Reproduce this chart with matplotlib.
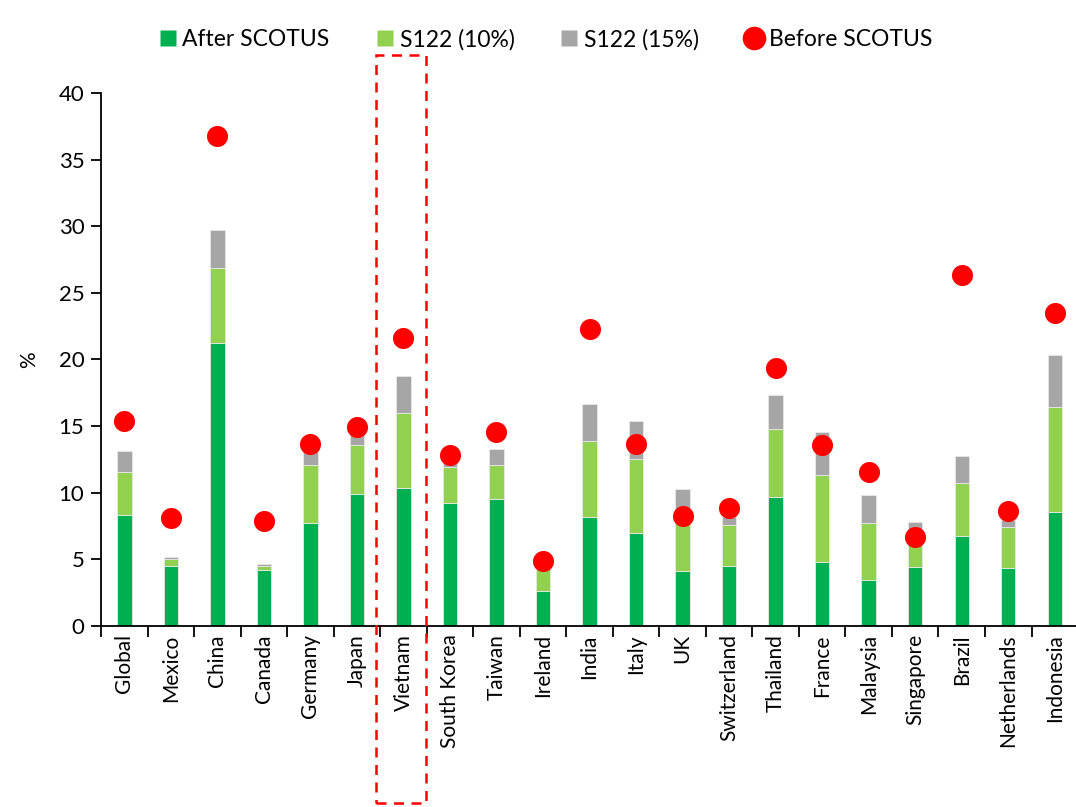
import numpy as np
import matplotlib
matplotlib.use("Agg")
import matplotlib.pyplot as plt
import matplotlib.transforms as mtransforms
from matplotlib.patches import Rectangle
from matplotlib.lines import Line2D

plt.rcParams['font.family'] = ['Lato', 'DejaVu Sans']

countries = ["Global", "Mexico", "China", "Canada", "Germany", "Japan", "Vietnam",
             "South Korea", "Taiwan", "Ireland", "India", "Italy", "UK", "Switzerland",
             "Thailand", "France", "Malaysia", "Singapore", "Brazil", "Netherlands", "Indonesia"]
# stack tops
after_scotus = [8.3, 4.5, 21.2, 4.2, 7.7, 9.9, 10.35, 9.25, 9.55, 2.6, 8.2, 6.95, 4.15,
                4.5, 9.65, 4.8, 3.45, 4.45, 6.75, 4.35, 8.55]
top_10 = [11.55, 5.0, 26.9, 4.5, 12.05, 13.55, 15.95, 11.95, 12.05, 4.3, 13.85, 12.5, 7.7,
          7.6, 14.75, 11.3, 7.7, 6.2, 10.75, 7.45, 16.4]
top_15 = [13.15, 5.2, 29.7, 4.65, 13.2, 14.4, 18.75, 12.3, 13.3, 4.45, 16.65, 15.35, 10.3,
          8.2, 17.3, 14.55, 9.85, 7.8, 12.75, 7.95, 20.3]
before_scotus = [15.35, 8.1, 36.8, 7.9, 13.65, 14.9, 21.6, 12.8, 14.55, 4.9, 22.3, 13.65, 8.25,
                 8.85, 19.35, 13.6, 11.55, 6.7, 26.35, 8.6, 23.5]

c_after = "#00B050"
c_10 = "#92D050"
c_15 = "#A6A6A6"
c_dot = "#FF0000"

after = np.array(after_scotus)
s10 = np.array(top_10) - after
s15 = np.array(top_15) - np.array(top_10)

fig = plt.figure(figsize=(10.76, 8.07), dpi=100)
ax = fig.add_axes([0.0939, 0.2243, 0.908, 0.6605])

x = np.arange(len(countries))
w = 0.31
ax.bar(x, after, w, color=c_after, edgecolor="#e8e8e8", linewidth=0.6, zorder=2)
ax.bar(x, s10, w, bottom=after, color=c_10, edgecolor="#e8e8e8", linewidth=0.6, zorder=2)
ax.bar(x, s15, w, bottom=np.array(top_10), color=c_15, edgecolor="#e8e8e8", linewidth=0.6, zorder=2)
ax.scatter(x, before_scotus, s=230, color=c_dot, zorder=3, linewidths=0)

ax.set_xlim(-0.5, len(countries) - 0.5)
ax.set_ylim(0, 40)
ax.set_yticks(np.arange(0, 41, 5))
ax.tick_params(axis='y', labelsize=16, length=7, width=1.3, direction='out', pad=5)

ax.set_xticks(x)
ax.set_xticklabels(countries, rotation=90, fontsize=15)
ax.tick_params(axis='x', length=0, pad=6)
ax.set_xticks(np.arange(-0.5, len(countries), 1), minor=True)
ax.tick_params(axis='x', which='minor', length=8, width=1.3, direction='out')

for s in ['top', 'right']:
    ax.spines[s].set_visible(False)
for s in ['left', 'bottom']:
    ax.spines[s].set_linewidth(1.3)

ax.set_ylabel("%", fontsize=15, labelpad=14)

# dashed box around Vietnam
trans = mtransforms.blended_transform_factory(ax.transData, ax.transAxes)
vi = countries.index("Vietnam")
box = Rectangle((vi - 0.59, -0.332), 1.07, 1.403, transform=trans, fill=False,
                edgecolor=c_dot, linestyle=(0, (4, 3)), linewidth=1.8, clip_on=False, zorder=5)
ax.add_patch(box)

handles = [
    Line2D([], [], marker='s', color='none', markerfacecolor=c_after, markeredgecolor='none', markersize=11),
    Line2D([], [], marker='s', color='none', markerfacecolor=c_10, markeredgecolor='none', markersize=11),
    Line2D([], [], marker='s', color='none', markerfacecolor=c_15, markeredgecolor='none', markersize=11),
    Line2D([], [], marker='o', color='none', markerfacecolor=c_dot, markeredgecolor='none', markersize=17),
]
labels = ["After SCOTUS", "S122 (10%)", "S122 (15%)", "Before SCOTUS"]
fig.legend(handles, labels, loc='center', bbox_to_anchor=(0.507, 0.951), ncol=4, frameon=False,
           fontsize=16.5, handlelength=0.8, handletextpad=0.25, columnspacing=2.0)

fig.savefig("out.png", dpi=100)
